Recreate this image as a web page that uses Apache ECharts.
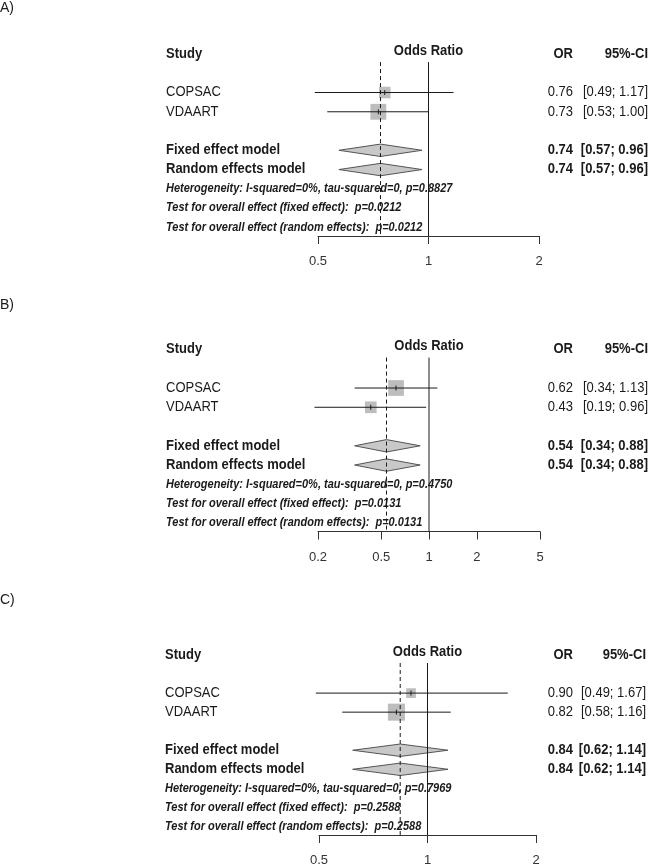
<!DOCTYPE html>
<html>
<head>
<meta charset="utf-8">
<script src="https://cdn.jsdelivr.net/npm/echarts@6/dist/echarts.min.js"></script>
<style>
html,body{margin:0;padding:0;background:#ffffff;}
#chart{width:656px;height:867px;}
</style>
</head>
<body>
<div id="chart"></div>
<script>
// ---------------- DATA ----------------
const panelNames = ['A)', 'B)', 'C)'];
const studies = ['COPSAC', 'VDAART'];
const modelNames = ['Fixed effect model', 'Random effects model'];

// Panel A
const orA = [0.76, 0.73];
const lowerA = [0.49, 0.53];
const upperA = [1.17, 1.00];
const weightA = [34.7, 65.3];          // % weight (square size)
const pooledA = [0.74, 0.57, 0.96];    // estimate, lower, upper
const pValuesA = ['0.8827', '0.0212', '0.0212'];
const ticksA = [0.5, 1, 2];

// Panel B
const orB = [0.62, 0.43];
const lowerB = [0.34, 0.19];
const upperB = [1.13, 0.96];
const weightB = [64.5, 35.5];
const pooledB = [0.54, 0.34, 0.88];
const pValuesB = ['0.4750', '0.0131', '0.0131'];
const ticksB = [0.2, 0.5, 1, 2, 5];

// Panel C
const orC = [0.90, 0.82];
const lowerC = [0.49, 0.58];
const upperC = [1.67, 1.16];
const weightC = [24.3, 75.7];
const pooledC = [0.84, 0.62, 1.14];
const pValuesC = ['0.7969', '0.2588', '0.2588'];
const ticksC = [0.5, 1, 2];

// ---------------- LAYOUT ----------------
const panels = [
  {or: orA, lo: lowerA, hi: upperA, w: weightA, pooled: pooledA, p: pValuesA, ticks: ticksA},
  {or: orB, lo: lowerB, hi: upperB, w: weightB, pooled: pooledB, p: pValuesB, ticks: ticksB},
  {or: orC, lo: lowerC, hi: upperC, w: weightC, pooled: pooledC, p: pValuesC, ticks: ticksC}
];
const boxes = [
  {top: 54,    left: 318, width: 221, labelY: 8,   textLeft: 166, orRight: 573, ciRight: 648},
  {top: 349.5, left: 318, width: 222, labelY: 305, textLeft: 166, orRight: 573, ciRight: 648},
  {top: 655,   left: 319, width: 217, labelY: 600, textLeft: 165, orRight: 573, ciRight: 646}
];
const GRID_H = 182;
const ROW = {header: 0, title: -0.16, studies: [2, 3], models: [5, 6], het: 7, testF: 8, testR: 9, refTop: 0.42, axis: 9.45};
const SQUARE_K = 19.6;
const DIAMOND_H = 6.2;
const TEXT_SCALE_Y = 1.08;
const FONT = '"Liberation Sans", Arial, Helvetica, sans-serif';
const INK = '#1a1a1a';

const ln = Math.log;
const f2 = v => v.toFixed(2);

function renderStudy(params, api) {
  const y = api.value(1);
  const c = api.coord([api.value(0), y]);
  const lo = api.coord([api.value(2), y]);
  const hi = api.coord([api.value(3), y]);
  const side = SQUARE_K * Math.sqrt(api.value(4) / 100);
  return {
    type: 'group',
    children: [
      {type: 'rect', shape: {x: c[0] - side / 2, y: c[1] - side / 2, width: side, height: side},
       style: {fill: '#bdbdbd'}},
      {type: 'line', shape: {x1: lo[0], y1: c[1], x2: hi[0], y2: c[1]},
       style: {stroke: INK, lineWidth: 1}},
      {type: 'line', shape: {x1: c[0], y1: c[1] - 2.5, x2: c[0], y2: c[1] + 2.5},
       style: {stroke: INK, lineWidth: 1}}
    ]
  };
}

function renderDiamond(params, api) {
  const y = api.value(1);
  const c = api.coord([api.value(0), y]);
  const lo = api.coord([api.value(2), y]);
  const hi = api.coord([api.value(3), y]);
  return {
    type: 'polygon',
    shape: {points: [[lo[0], c[1]], [c[0], c[1] - DIAMOND_H], [hi[0], c[1]], [c[0], c[1] + DIAMOND_H]]},
    style: {fill: '#c8c8c8', stroke: '#555555', lineWidth: 1}
  };
}

const grid = [], xAxis = [], yAxis = [], series = [];
panels.forEach((pd, i) => {
  const b = boxes[i];
  grid.push({left: b.left, top: b.top, width: b.width, height: GRID_H, containLabel: false});
  const tv = pd.ticks.map(ln);
  xAxis.push({
    gridIndex: i, type: 'value',
    min: tv[0], max: tv[tv.length - 1],
    axisLine: {show: true, onZero: false, lineStyle: {color: '#333333', width: 1}},
    axisTick: {show: true, length: 8, customValues: tv, lineStyle: {color: '#333333', width: 1}},
    axisLabel: {
      customValues: tv, margin: 19, fontSize: 13, fontFamily: FONT, color: '#333333',
      formatter: v => {
        let best = pd.ticks[0];
        pd.ticks.forEach(t => { if (Math.abs(ln(t) - v) < Math.abs(ln(best) - v)) best = t; });
        return String(best);
      }
    },
    splitLine: {show: false}
  });
  yAxis.push({gridIndex: i, type: 'value', min: 0, max: ROW.axis, inverse: true, show: false});

  series.push({
    type: 'custom', xAxisIndex: i, yAxisIndex: i, clip: false, silent: true, z: 3,
    renderItem: renderStudy,
    data: studies.map((s, k) => [ln(pd.or[k]), ROW.studies[k], ln(pd.lo[k]), ln(pd.hi[k]), pd.w[k]])
  });
  series.push({
    type: 'custom', xAxisIndex: i, yAxisIndex: i, clip: false, silent: true, z: 3,
    renderItem: renderDiamond,
    data: modelNames.map((m, k) => [ln(pd.pooled[0]), ROW.models[k], ln(pd.pooled[1]), ln(pd.pooled[2])])
  });
  series.push({
    type: 'line', xAxisIndex: i, yAxisIndex: i, symbol: 'none', silent: true, z: 5,
    lineStyle: {color: INK, width: 1},
    data: [[0, ROW.refTop], [0, ROW.axis]]
  });
  series.push({
    type: 'line', xAxisIndex: i, yAxisIndex: i, symbol: 'none', silent: true, z: 5,
    lineStyle: {color: INK, width: 1, type: [4, 3]},
    data: [[ln(pd.pooled[0]), ROW.refTop], [ln(pd.pooled[0]), ROW.axis]]
  });
});

const chart = echarts.init(document.getElementById('chart'), null, {renderer: 'canvas'});
chart.setOption({animation: false, backgroundColor: '#ffffff', grid, xAxis, yAxis, series});

// ---------------- TEXT ----------------
function txt(x, y, text, font, align) {
  return {
    type: 'text', x: x, y: y, scaleY: TEXT_SCALE_Y, silent: true,
    style: {text: text, font: font, fill: INK, align: align || 'left', textAlign: align || 'left',
            verticalAlign: 'middle', textVerticalAlign: 'middle'}
  };
}
const REG = '13px ' + FONT;
const BOLD = 'bold 13px ' + FONT;
const ITAL = 'italic bold 11px ' + FONT;

const elements = [];
panels.forEach((pd, i) => {
  const b = boxes[i];
  const yOf = r => chart.convertToPixel({gridIndex: i}, [0, r])[1];
  const xOne = chart.convertToPixel({gridIndex: i}, [0, 0])[0];
  elements.push(txt(0, b.labelY, panelNames[i], '14px ' + FONT, 'left'));
  elements.push(txt(b.textLeft, yOf(ROW.header), 'Study', BOLD, 'left'));
  elements.push(txt(xOne, yOf(ROW.title), 'Odds Ratio', BOLD, 'center'));
  elements.push(txt(b.orRight, yOf(ROW.header), 'OR', BOLD, 'right'));
  elements.push(txt(b.ciRight, yOf(ROW.header), '95%-CI', BOLD, 'right'));
  studies.forEach((s, k) => {
    const y = yOf(ROW.studies[k]);
    elements.push(txt(b.textLeft, y, s, REG, 'left'));
    elements.push(txt(b.orRight, y, f2(pd.or[k]), REG, 'right'));
    elements.push(txt(b.ciRight, y, '[' + f2(pd.lo[k]) + '; ' + f2(pd.hi[k]) + ']', REG, 'right'));
  });
  modelNames.forEach((m, k) => {
    const y = yOf(ROW.models[k]);
    elements.push(txt(b.textLeft, y, m, BOLD, 'left'));
    elements.push(txt(b.orRight, y, f2(pd.pooled[0]), BOLD, 'right'));
    elements.push(txt(b.ciRight, y, '[' + f2(pd.pooled[1]) + '; ' + f2(pd.pooled[2]) + ']', BOLD, 'right'));
  });
  elements.push(txt(b.textLeft, yOf(ROW.het), 'Heterogeneity: I-squared=0%, tau-squared=0, p=' + pd.p[0], ITAL, 'left'));
  elements.push(txt(b.textLeft, yOf(ROW.testF), 'Test for overall effect (fixed effect):  p=' + pd.p[1], ITAL, 'left'));
  elements.push(txt(b.textLeft, yOf(ROW.testR), 'Test for overall effect (random effects):  p=' + pd.p[2], ITAL, 'left'));
});
chart.setOption({graphic: {elements: elements}});
</script>
</body>
</html>
